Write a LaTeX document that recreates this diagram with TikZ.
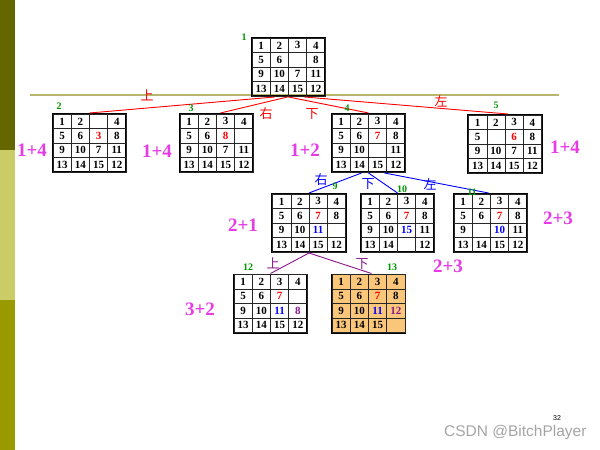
\documentclass[tikz,border=0pt]{standalone}
\usepackage{fontspec}
\setmainfont{Liberation Serif}
\setsansfont{Liberation Sans}
\newfontfamily\cjk{Noto Sans CJK SC}
\usepackage{xcolor}
\usepackage{tikz}
\usetikzlibrary{matrix, calc}

\definecolor{barDark}{RGB}{102,102,0}
\definecolor{barPale}{RGB}{204,204,102}
\definecolor{barMid}{RGB}{153,153,0}
\definecolor{ruleCol}{RGB}{185,180,110}
\definecolor{stepNo}{RGB}{0,150,0}
\definecolor{fCol}{RGB}{230,60,230}
\definecolor{moveRed}{RGB}{255,0,0}
\definecolor{moveBlue}{RGB}{0,0,255}
\definecolor{movePurple}{RGB}{140,20,140}
\definecolor{goalFill}{RGB}{250,198,122}
\definecolor{markGray}{RGB}{165,165,165}

\begin{document}
\begin{tikzpicture}[x=1pt, y=-1pt,
    board/.style={matrix of nodes, nodes in empty cells, draw, line width=1.8pt,
      inner sep=0pt, column sep=-0.6pt, row sep=-0.6pt, nodes={cell}},
    cell/.style={draw=black!85, line width=0.6pt, anchor=center, inner sep=0pt,
      minimum width=18.2pt, minimum height=14.4pt,
      font=\fontsize{11}{12}\selectfont\bfseries},
    rd/.style={text=moveRed}, bl/.style={text=moveBlue}, pu/.style={text=movePurple},
    stepno/.style={text=stepNo, font=\fontsize{10}{12}\selectfont\bfseries},
    fval/.style={text=fCol, font=\fontsize{19}{22}\selectfont\bfseries},
    move/.style={font=\cjk\fontsize{13}{15}\selectfont},
    edge/.style={line width=0.9pt}]

  \fill[white] (0,0) rectangle (600,450);
  \useasboundingbox (0,0) rectangle (600,450);

  \fill[barDark] (0,0)   rectangle (15,150);
  \fill[barPale] (0,150) rectangle (15,300);
  \fill[barMid]  (0,300) rectangle (15,450);

  \draw[ruleCol, line width=1.2pt] (30,95) -- (559,95);

  \matrix (b1) [board] at (288.5,67) {
    1 & 2 & 3 & 4 \\
    5 & 6 &   & 8 \\
    9 & 10 & 7 & 11 \\
    13 & 14 & 15 & 12 \\
  };

  \matrix (b2) [board] at (89.5,143) {
    1 & 2 &   & 4 \\
    5 & 6 & |[rd]| 3 & 8 \\
    9 & 10 & 7 & 11 \\
    13 & 14 & 15 & 12 \\
  };
  \matrix (b3) [board] at (216.5,143) {
    1 & 2 & 3 & 4 \\
    5 & 6 & |[rd]| 8 &   \\
    9 & 10 & 7 & 11 \\
    13 & 14 & 15 & 12 \\
  };
  \matrix (b4) [board] at (368.5,143) {
    1 & 2 & 3 & 4 \\
    5 & 6 & |[rd]| 7 & 8 \\
    9 & 10 &   & 11 \\
    13 & 14 & 15 & 12 \\
  };
  \matrix (b5) [board] at (505,144) {
    1 & 2 & 3 & 4 \\
    5 &   & |[rd]| 6 & 8 \\
    9 & 10 & 7 & 11 \\
    13 & 14 & 15 & 12 \\
  };

  \matrix (b9) [board] at (309,223) {
    1 & 2 & 3 & 4 \\
    5 & 6 & |[rd]| 7 & 8 \\
    9 & 10 & |[bl]| 11 &   \\
    13 & 14 & 15 & 12 \\
  };
  \matrix (b10) [board] at (397.5,223) {
    1 & 2 & 3 & 4 \\
    5 & 6 & |[rd]| 7 & 8 \\
    9 & 10 & |[bl]| 15 & 11 \\
    13 & 14 &   & 12 \\
  };
  \matrix (b11) [board] at (490.5,223) {
    1 & 2 & 3 & 4 \\
    5 & 6 & |[rd]| 7 & 8 \\
    9 &   & |[bl]| 10 & 11 \\
    13 & 14 & 15 & 12 \\
  };

  \matrix (b12) [board] at (270.5,303.5) {
    1 & 2 & 3 & 4 \\
    5 & 6 & |[rd]| 7 &   \\
    9 & 10 & |[bl]| 11 & |[pu]| 8 \\
    13 & 14 & 15 & 12 \\
  };
  \matrix (b13) [board, nodes={cell, fill=goalFill}] at (368.5,303.5) {
    1 & 2 & 3 & 4 \\
    5 & 6 & |[rd]| 7 & 8 \\
    9 & 10 & |[bl]| 11 & |[pu]| 12 \\
    13 & 14 & 15 &   \\
  };

  \draw[edge, moveRed] ([xshift=-14pt]b1.south) -- (b2.north);
  \draw[edge, moveRed] ([xshift=-1pt]b1.south) -- ([xshift=4pt]b3.north);
  \draw[edge, moveRed] (b1.south) -- (b4.north);
  \draw[edge, moveRed] ([xshift=16pt]b1.south) -- ([xshift=3pt]b5.north);

  \draw[edge, moveBlue] ([xshift=-7pt]b4.south) -- (b9.north);
  \draw[edge, moveBlue] (b4.south) -- (b10.north);
  \draw[edge, moveBlue] ([xshift=16pt]b4.south) -- ([xshift=-2pt]b11.north);

  \draw[edge, movePurple] (b9.south) -- (b12.north);
  \draw[edge, movePurple] (b9.south) -- ([xshift=3pt]b13.north);

  \foreach \k/\x/\y/\c/\t in {1/147/95/moveRed/上, 2/266/114/moveRed/右,
      3/312/114/moveRed/下, 4/441/101/moveRed/左, 5/321/180/moveBlue/右,
      6/368/184/moveBlue/下, 7/430/184/moveBlue/左, 8/273/263/movePurple/上,
      9/362/264/movePurple/下} {
    \node[move, text=\c] (mv\k) at (\x,\y) {\t};
  }

  \foreach \n/\x/\y in {1/244/37, 2/59/106, 3/191/108, 4/347/108, 5/496/105,
      9/335/186, 10/402/189, 11/472/192, 12/248/267, 13/392/267} {
    \node[stepno] (n\n) at (\x,\y) {\n};
  }

  \foreach \k/\x/\y/\t in {2/32/150/1+4, 3/157/151/1+4, 4/305/150/1+2,
      5/565/147/1+4, 9/243/225/2+1, 11/558/218/2+3, 10/448/266/2+3,
      12/200/309/3+2} {
    \node[fval] (f\k) at (\x,\y) {\t};
  }

  \node[font=\sffamily\fontsize{7}{8}\selectfont] (pageNo) at (557,418) {32};
  \node[anchor=east, text=markGray, font=\sffamily\fontsize{15.5}{17}\selectfont]
    (mark) at (590,432) {CSDN @BitchPlayer};
\end{tikzpicture}
\end{document}
